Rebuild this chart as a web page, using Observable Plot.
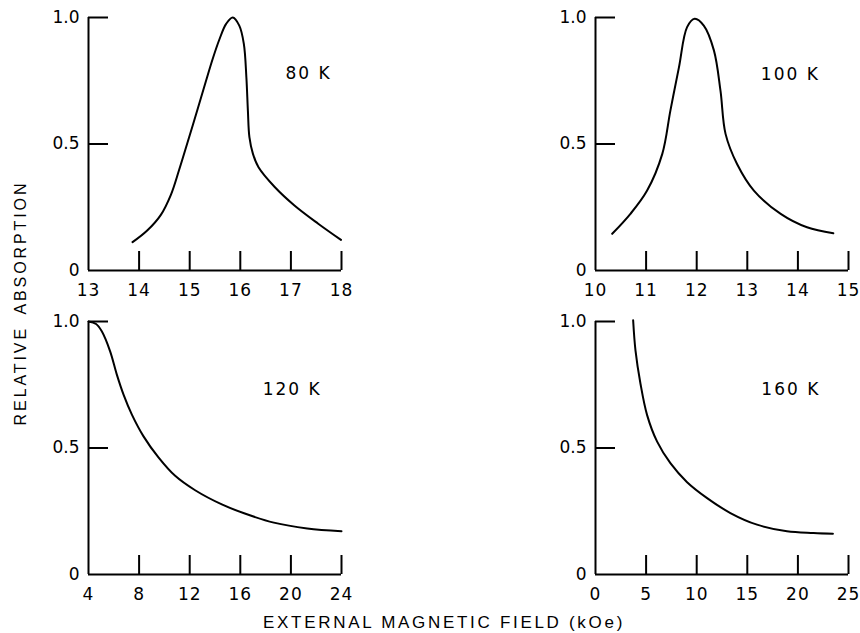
<!DOCTYPE html>
<html><head><meta charset="utf-8">
<script src="https://cdn.jsdelivr.net/npm/d3@7"></script>
<script src="https://cdn.jsdelivr.net/npm/@observablehq/plot@0.6"></script>
<style>
body{margin:0;background:#fff;overflow:hidden}
#wrap{position:relative;width:860px;height:633px;font-family:"Liberation Sans",Arial,sans-serif;color:#000}
.panel{position:absolute}
.panel svg{overflow:visible}
.panel g[aria-label="text"] text{letter-spacing:2px}
.panel g[aria-label="x-axis tick label"] text{letter-spacing:1px}
#ytitle{position:absolute;left:21px;top:303px;transform:translate(-50%,-50%) rotate(-90deg);white-space:nowrap;font-size:16px;letter-spacing:2.9px;word-spacing:5px}
#xtitle{position:absolute;left:263px;top:613px;white-space:nowrap;font-size:17px;letter-spacing:2.7px;line-height:20px}
</style>
</head><body>
<div id="wrap">
  <div id="ytitle">RELATIVE ABSORPTION</div>
  <div id="xtitle">EXTERNAL MAGNETIC FIELD (kOe)</div>
</div>
<script>
// ---- data ----
const yTicks = [0, 0.5, 1.0];

const ticks80 = [13, 14, 15, 16, 17, 18];
const field80 = [13.87, 14.16, 14.43, 14.63, 14.79, 14.96, 15.16, 15.32, 15.46, 15.59, 15.72, 15.85, 15.98, 16.07, 16.12, 16.15, 16.18, 16.25, 16.36, 16.68, 17.07, 17.54, 17.99];
const abs80   = [0.112, 0.158, 0.22, 0.30, 0.397, 0.508, 0.640, 0.748, 0.840, 0.915, 0.975, 1.0, 0.968, 0.896, 0.764, 0.632, 0.527, 0.461, 0.408, 0.33, 0.257, 0.185, 0.121];

const ticks100 = [10, 11, 12, 13, 14, 15];
const field100 = [10.33, 10.69, 11.02, 11.32, 11.48, 11.65, 11.81, 11.96, 12.14, 12.34, 12.47, 12.57, 12.8, 13.13, 13.66, 14.18, 14.70];
const abs100   = [0.145, 0.224, 0.316, 0.461, 0.632, 0.804, 0.962, 0.995, 0.968, 0.87, 0.711, 0.54, 0.42, 0.316, 0.224, 0.171, 0.147];

const ticks120 = [4, 8, 12, 16, 20, 24];
const field120 = [4.0, 4.6, 5.05, 5.71, 6.24, 6.77, 7.43, 8.35, 9.53, 10.85, 12.43, 14.54, 16.3, 18.65, 21.29, 24.0];
const abs120   = [1.0, 0.99, 0.961, 0.882, 0.79, 0.711, 0.632, 0.546, 0.463, 0.390, 0.333, 0.277, 0.242, 0.205, 0.182, 0.171];

const ticks160 = [0, 5, 10, 15, 20, 25];
const field160 = [3.72, 3.95, 4.44, 5.1, 6.09, 7.4, 9.05, 11.03, 13.33, 15.96, 18.92, 21.55, 23.46];
const abs160   = [1.005, 0.886, 0.755, 0.63, 0.525, 0.44, 0.365, 0.302, 0.243, 0.197, 0.171, 0.164, 0.161];

const labels = ["80 K", "100 K", "120 K", "160 K"];
const labelX = [17.35, 13.85, 20.1, 19.3];
const labelY = [0.78, 0.775, 0.73, 0.73];

// ---- drawing ----
const FONT = '"DejaVu Sans", "Liberation Sans", sans-serif';
function panel(ticks, field, abs, i, left, top) {
  const W = 351, H = 301, mL = 88, mR = 10, mT = 17, mB = 31;
  const innerW = W - mL - mR, innerH = H - mT - mB;
  const pts = field.map((f, k) => ({f, a: abs[k]}));
  const svg = Plot.plot({
    width: W, height: H,
    marginLeft: mL, marginRight: mR, marginTop: mT, marginBottom: mB,
    x: {domain: [ticks[0], ticks[ticks.length - 1]]},
    y: {domain: [0, 1]},
    style: {fontFamily: FONT, color: "#000", background: "transparent"},
    marks: [
      Plot.axisX(ticks, {tickSize: 0, tickPadding: 13, fontSize: 17, label: null}),
      Plot.axisY(yTicks, {tickSize: 0, tickPadding: 9, fontSize: 17, label: null,
        tickFormat: d => d === 0 ? "0" : d.toFixed(1)}),
      Plot.ruleX([ticks[0]], {stroke: "#000", strokeWidth: 2}),
      Plot.ruleY([0], {stroke: "#000", strokeWidth: 2}),
      Plot.tickX(ticks.slice(1), {x: d => d, insetTop: innerH - 19, stroke: "#000", strokeWidth: 2}),
      Plot.tickY(yTicks.slice(1), {y: d => d, insetRight: innerW - 20, stroke: "#000", strokeWidth: 2}),
      Plot.line(pts, {x: "f", y: "a", curve: "catmull-rom", stroke: "#000", strokeWidth: 2}),
      Plot.text([{x: labelX[i], y: labelY[i], t: labels[i]}], {x: "x", y: "y", text: "t", fontSize: 17, fill: "#000", textAnchor: "middle"})
    ]
  });
  const d = document.createElement("div");
  d.className = "panel";
  d.style.left = left + "px";
  d.style.top = top + "px";
  d.appendChild(svg);
  document.getElementById("wrap").appendChild(d);
}

panel(ticks80, field80, abs80, 0, 0, 0);
panel(ticks100, field100, abs100, 1, 507, 0);
panel(ticks120, field120, abs120, 2, 0, 304);
panel(ticks160, field160, abs160, 3, 507, 304);
</script>
</body></html>
